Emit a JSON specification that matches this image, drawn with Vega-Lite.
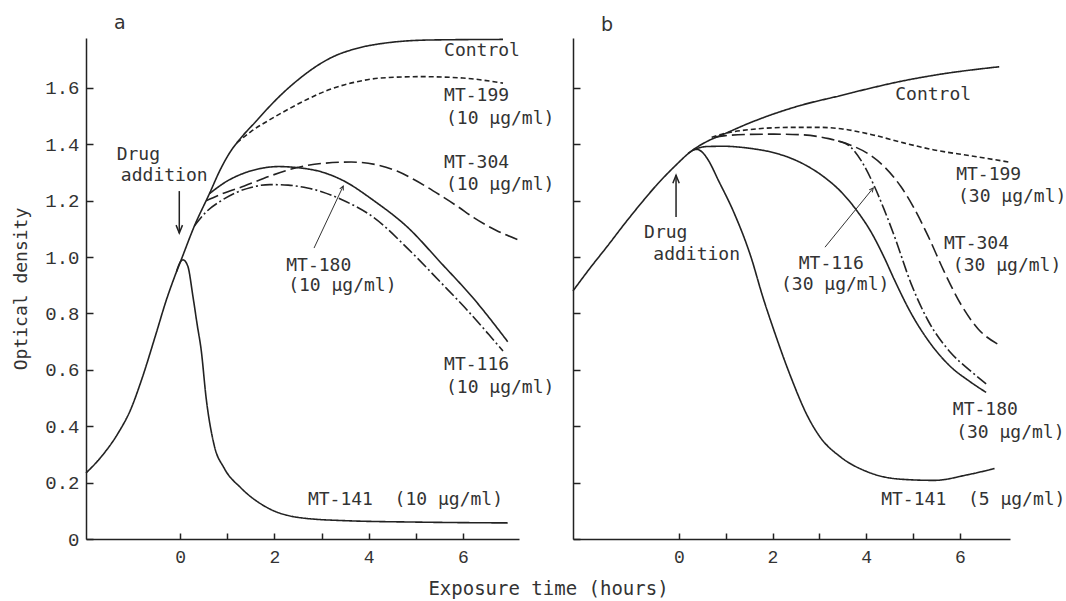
{
  "$schema": "https://vega.github.io/schema/vega-lite/v6.json",
  "background": "white",
  "padding": {"left": 12, "top": 14, "right": 2, "bottom": 2},
  "config": {
    "view": {"stroke": null},
    "font": "DejaVu Sans Mono",
    "axis": {
      "grid": false,
      "domainColor": "#222",
      "domainWidth": 1.5,
      "tickColor": "#222",
      "tickWidth": 1.5,
      "labelFont": "Liberation Mono",
      "labelColor": "#333",
      "titleFont": "DejaVu Sans Mono",
      "titleFontWeight": "normal",
      "titleColor": "#333"
    }
  },
  "datasets": {
    "lines": [
      {"panel": "a", "series": "Control", "t": -2, "od": 0.234},
      {"panel": "a", "series": "Control", "t": -1.66, "od": 0.295},
      {"panel": "a", "series": "Control", "t": -1.32, "od": 0.375},
      {"panel": "a", "series": "Control", "t": -1.05, "od": 0.46},
      {"panel": "a", "series": "Control", "t": -0.83, "od": 0.56},
      {"panel": "a", "series": "Control", "t": -0.51, "od": 0.73},
      {"panel": "a", "series": "Control", "t": -0.3, "od": 0.845},
      {"panel": "a", "series": "Control", "t": -0.12, "od": 0.93},
      {"panel": "a", "series": "Control", "t": 0.02, "od": 0.99},
      {"panel": "a", "series": "Control", "t": 0.3, "od": 1.11},
      {"panel": "a", "series": "Control", "t": 0.62, "od": 1.225},
      {"panel": "a", "series": "Control", "t": 0.85, "od": 1.31},
      {"panel": "a", "series": "Control", "t": 1.05, "od": 1.37},
      {"panel": "a", "series": "Control", "t": 1.3, "od": 1.425},
      {"panel": "a", "series": "Control", "t": 1.6, "od": 1.48},
      {"panel": "a", "series": "Control", "t": 1.9, "od": 1.535},
      {"panel": "a", "series": "Control", "t": 2.2, "od": 1.585},
      {"panel": "a", "series": "Control", "t": 2.57, "od": 1.638},
      {"panel": "a", "series": "Control", "t": 2.9, "od": 1.678},
      {"panel": "a", "series": "Control", "t": 3.2, "od": 1.707},
      {"panel": "a", "series": "Control", "t": 3.7, "od": 1.738},
      {"panel": "a", "series": "Control", "t": 4.26, "od": 1.757},
      {"panel": "a", "series": "Control", "t": 5.32, "od": 1.77},
      {"panel": "a", "series": "Control", "t": 6.85, "od": 1.772},

      {"panel": "a", "series": "MT-141", "t": -0.08, "od": 0.948},
      {"panel": "a", "series": "MT-141", "t": 0.0, "od": 0.982},
      {"panel": "a", "series": "MT-141", "t": 0.06, "od": 0.99},
      {"panel": "a", "series": "MT-141", "t": 0.16, "od": 0.968},
      {"panel": "a", "series": "MT-141", "t": 0.27, "od": 0.86},
      {"panel": "a", "series": "MT-141", "t": 0.36, "od": 0.76},
      {"panel": "a", "series": "MT-141", "t": 0.445, "od": 0.67},
      {"panel": "a", "series": "MT-141", "t": 0.55, "od": 0.5},
      {"panel": "a", "series": "MT-141", "t": 0.72, "od": 0.333},
      {"panel": "a", "series": "MT-141", "t": 0.93, "od": 0.252},
      {"panel": "a", "series": "MT-141", "t": 1.29, "od": 0.181},
      {"panel": "a", "series": "MT-141", "t": 1.86, "od": 0.11},
      {"panel": "a", "series": "MT-141", "t": 2.57, "od": 0.075},
      {"panel": "a", "series": "MT-141", "t": 3.5, "od": 0.065},
      {"panel": "a", "series": "MT-141", "t": 5.0, "od": 0.06},
      {"panel": "a", "series": "MT-141", "t": 6.95, "od": 0.057},

      {"panel": "a", "series": "MT-199", "t": 1.2, "od": 1.405},
      {"panel": "a", "series": "MT-199", "t": 1.5, "od": 1.445},
      {"panel": "a", "series": "MT-199", "t": 1.93, "od": 1.49},
      {"panel": "a", "series": "MT-199", "t": 2.3, "od": 1.525},
      {"panel": "a", "series": "MT-199", "t": 2.7, "od": 1.56},
      {"panel": "a", "series": "MT-199", "t": 3.2, "od": 1.596},
      {"panel": "a", "series": "MT-199", "t": 3.7, "od": 1.62},
      {"panel": "a", "series": "MT-199", "t": 4.26, "od": 1.635},
      {"panel": "a", "series": "MT-199", "t": 5.1, "od": 1.64},
      {"panel": "a", "series": "MT-199", "t": 6.0, "od": 1.635},
      {"panel": "a", "series": "MT-199", "t": 6.85, "od": 1.617},

      {"panel": "a", "series": "MT-304", "t": 0.55, "od": 1.2},
      {"panel": "a", "series": "MT-304", "t": 0.9, "od": 1.225},
      {"panel": "a", "series": "MT-304", "t": 1.36, "od": 1.252},
      {"panel": "a", "series": "MT-304", "t": 1.9, "od": 1.287},
      {"panel": "a", "series": "MT-304", "t": 2.42, "od": 1.315},
      {"panel": "a", "series": "MT-304", "t": 3.0, "od": 1.332},
      {"panel": "a", "series": "MT-304", "t": 3.63, "od": 1.337},
      {"panel": "a", "series": "MT-304", "t": 4.2, "od": 1.326},
      {"panel": "a", "series": "MT-304", "t": 4.6, "od": 1.305},
      {"panel": "a", "series": "MT-304", "t": 4.96, "od": 1.275},
      {"panel": "a", "series": "MT-304", "t": 5.53, "od": 1.218},
      {"panel": "a", "series": "MT-304", "t": 5.9, "od": 1.178},
      {"panel": "a", "series": "MT-304", "t": 6.23, "od": 1.14},
      {"panel": "a", "series": "MT-304", "t": 6.7, "od": 1.095},
      {"panel": "a", "series": "MT-304", "t": 7.23, "od": 1.058},

      {"panel": "a", "series": "MT-180", "t": 0.62, "od": 1.225},
      {"panel": "a", "series": "MT-180", "t": 1.0, "od": 1.27},
      {"panel": "a", "series": "MT-180", "t": 1.36, "od": 1.298},
      {"panel": "a", "series": "MT-180", "t": 1.7, "od": 1.314},
      {"panel": "a", "series": "MT-180", "t": 2.08, "od": 1.321},
      {"panel": "a", "series": "MT-180", "t": 2.5, "od": 1.317},
      {"panel": "a", "series": "MT-180", "t": 3.0, "od": 1.302},
      {"panel": "a", "series": "MT-180", "t": 3.45, "od": 1.272},
      {"panel": "a", "series": "MT-180", "t": 4.11, "od": 1.2},
      {"panel": "a", "series": "MT-180", "t": 4.83, "od": 1.105},
      {"panel": "a", "series": "MT-180", "t": 5.53, "od": 0.98},
      {"panel": "a", "series": "MT-180", "t": 6.23, "od": 0.852},
      {"panel": "a", "series": "MT-180", "t": 6.95, "od": 0.7},

      {"panel": "a", "series": "MT-116", "t": 0.3, "od": 1.11},
      {"panel": "a", "series": "MT-116", "t": 0.55, "od": 1.16},
      {"panel": "a", "series": "MT-116", "t": 0.87, "od": 1.2},
      {"panel": "a", "series": "MT-116", "t": 1.2, "od": 1.23},
      {"panel": "a", "series": "MT-116", "t": 1.5, "od": 1.247},
      {"panel": "a", "series": "MT-116", "t": 1.9, "od": 1.257},
      {"panel": "a", "series": "MT-116", "t": 2.29, "od": 1.255},
      {"panel": "a", "series": "MT-116", "t": 2.7, "od": 1.245},
      {"panel": "a", "series": "MT-116", "t": 3.0, "od": 1.232},
      {"panel": "a", "series": "MT-116", "t": 3.41, "od": 1.205},
      {"panel": "a", "series": "MT-116", "t": 4.11, "od": 1.14},
      {"panel": "a", "series": "MT-116", "t": 4.83, "od": 1.03},
      {"panel": "a", "series": "MT-116", "t": 5.53, "od": 0.91},
      {"panel": "a", "series": "MT-116", "t": 6.1, "od": 0.81},
      {"panel": "a", "series": "MT-116", "t": 6.55, "od": 0.725},
      {"panel": "a", "series": "MT-116", "t": 6.85, "od": 0.667},

      {"panel": "b", "series": "Control", "t": -2.26, "od": 0.88},
      {"panel": "b", "series": "Control", "t": -1.9, "od": 0.96},
      {"panel": "b", "series": "Control", "t": -1.52, "od": 1.04},
      {"panel": "b", "series": "Control", "t": -1.15, "od": 1.12},
      {"panel": "b", "series": "Control", "t": -0.81, "od": 1.19},
      {"panel": "b", "series": "Control", "t": -0.45, "od": 1.26},
      {"panel": "b", "series": "Control", "t": -0.1, "od": 1.32},
      {"panel": "b", "series": "Control", "t": 0.26, "od": 1.375},
      {"panel": "b", "series": "Control", "t": 0.6, "od": 1.41},
      {"panel": "b", "series": "Control", "t": 0.96, "od": 1.436},
      {"panel": "b", "series": "Control", "t": 1.5, "od": 1.475},
      {"panel": "b", "series": "Control", "t": 2.03, "od": 1.508},
      {"panel": "b", "series": "Control", "t": 2.6, "od": 1.538},
      {"panel": "b", "series": "Control", "t": 3.46, "od": 1.573},
      {"panel": "b", "series": "Control", "t": 4.04, "od": 1.597},
      {"panel": "b", "series": "Control", "t": 4.7, "od": 1.622},
      {"panel": "b", "series": "Control", "t": 5.45, "od": 1.645},
      {"panel": "b", "series": "Control", "t": 6.84, "od": 1.675},

      {"panel": "b", "series": "MT-141", "t": 0.2, "od": 1.368},
      {"panel": "b", "series": "MT-141", "t": 0.38, "od": 1.382},
      {"panel": "b", "series": "MT-141", "t": 0.5, "od": 1.372},
      {"panel": "b", "series": "MT-141", "t": 0.62, "od": 1.346},
      {"panel": "b", "series": "MT-141", "t": 0.85, "od": 1.27},
      {"panel": "b", "series": "MT-141", "t": 1.17, "od": 1.16},
      {"panel": "b", "series": "MT-141", "t": 1.54, "od": 1.0},
      {"panel": "b", "series": "MT-141", "t": 1.79, "od": 0.86},
      {"panel": "b", "series": "MT-141", "t": 2.03, "od": 0.74},
      {"panel": "b", "series": "MT-141", "t": 2.39, "od": 0.575},
      {"panel": "b", "series": "MT-141", "t": 2.75, "od": 0.435},
      {"panel": "b", "series": "MT-141", "t": 3.0, "od": 0.365},
      {"panel": "b", "series": "MT-141", "t": 3.46, "od": 0.29},
      {"panel": "b", "series": "MT-141", "t": 4.0, "od": 0.24},
      {"panel": "b", "series": "MT-141", "t": 4.74, "od": 0.212},
      {"panel": "b", "series": "MT-141", "t": 5.45, "od": 0.208},
      {"panel": "b", "series": "MT-141", "t": 6.17, "od": 0.228},
      {"panel": "b", "series": "MT-141", "t": 6.74, "od": 0.25},

      {"panel": "b", "series": "MT-180", "t": 0.3, "od": 1.38},
      {"panel": "b", "series": "MT-180", "t": 0.6, "od": 1.392},
      {"panel": "b", "series": "MT-180", "t": 0.96, "od": 1.393},
      {"panel": "b", "series": "MT-180", "t": 1.5, "od": 1.386},
      {"panel": "b", "series": "MT-180", "t": 2.03, "od": 1.37},
      {"panel": "b", "series": "MT-180", "t": 2.4, "od": 1.35},
      {"panel": "b", "series": "MT-180", "t": 2.75, "od": 1.322},
      {"panel": "b", "series": "MT-180", "t": 3.1, "od": 1.284},
      {"panel": "b", "series": "MT-180", "t": 3.46, "od": 1.232},
      {"panel": "b", "series": "MT-180", "t": 3.82, "od": 1.16},
      {"panel": "b", "series": "MT-180", "t": 4.1, "od": 1.09},
      {"panel": "b", "series": "MT-180", "t": 4.38, "od": 1.0},
      {"panel": "b", "series": "MT-180", "t": 4.6, "od": 0.92},
      {"panel": "b", "series": "MT-180", "t": 4.96, "od": 0.8},
      {"panel": "b", "series": "MT-180", "t": 5.32, "od": 0.705},
      {"panel": "b", "series": "MT-180", "t": 5.81, "od": 0.61},
      {"panel": "b", "series": "MT-180", "t": 6.2, "od": 0.56},
      {"panel": "b", "series": "MT-180", "t": 6.56, "od": 0.52},

      {"panel": "b", "series": "MT-199", "t": 0.7, "od": 1.425},
      {"panel": "b", "series": "MT-199", "t": 0.9, "od": 1.435},
      {"panel": "b", "series": "MT-199", "t": 1.5, "od": 1.452},
      {"panel": "b", "series": "MT-199", "t": 2.39, "od": 1.46},
      {"panel": "b", "series": "MT-199", "t": 3.0, "od": 1.46},
      {"panel": "b", "series": "MT-199", "t": 3.46, "od": 1.455},
      {"panel": "b", "series": "MT-199", "t": 4.1, "od": 1.435},
      {"panel": "b", "series": "MT-199", "t": 4.8, "od": 1.405},
      {"panel": "b", "series": "MT-199", "t": 5.45, "od": 1.38},
      {"panel": "b", "series": "MT-199", "t": 6.2, "od": 1.36},
      {"panel": "b", "series": "MT-199", "t": 7.05, "od": 1.337},

      {"panel": "b", "series": "MT-304", "t": 0.75, "od": 1.425},
      {"panel": "b", "series": "MT-304", "t": 0.96, "od": 1.43},
      {"panel": "b", "series": "MT-304", "t": 1.5, "od": 1.435},
      {"panel": "b", "series": "MT-304", "t": 2.03, "od": 1.436},
      {"panel": "b", "series": "MT-304", "t": 2.6, "od": 1.434},
      {"panel": "b", "series": "MT-304", "t": 3.2, "od": 1.42},
      {"panel": "b", "series": "MT-304", "t": 3.67, "od": 1.397},
      {"panel": "b", "series": "MT-304", "t": 4.1, "od": 1.36},
      {"panel": "b", "series": "MT-304", "t": 4.4, "od": 1.318},
      {"panel": "b", "series": "MT-304", "t": 4.74, "od": 1.25},
      {"panel": "b", "series": "MT-304", "t": 5.0, "od": 1.18},
      {"panel": "b", "series": "MT-304", "t": 5.32, "od": 1.075},
      {"panel": "b", "series": "MT-304", "t": 5.66, "od": 0.95},
      {"panel": "b", "series": "MT-304", "t": 6.03, "od": 0.83},
      {"panel": "b", "series": "MT-304", "t": 6.39, "od": 0.745},
      {"panel": "b", "series": "MT-304", "t": 6.82, "od": 0.69},

      {"panel": "b", "series": "MT-116", "t": 3.4, "od": 1.412},
      {"panel": "b", "series": "MT-116", "t": 3.67, "od": 1.39},
      {"panel": "b", "series": "MT-116", "t": 3.9, "od": 1.34},
      {"panel": "b", "series": "MT-116", "t": 4.15, "od": 1.26},
      {"panel": "b", "series": "MT-116", "t": 4.38, "od": 1.17},
      {"panel": "b", "series": "MT-116", "t": 4.6, "od": 1.075},
      {"panel": "b", "series": "MT-116", "t": 4.96, "od": 0.905},
      {"panel": "b", "series": "MT-116", "t": 5.32, "od": 0.775},
      {"panel": "b", "series": "MT-116", "t": 5.81, "od": 0.66},
      {"panel": "b", "series": "MT-116", "t": 6.2, "od": 0.6},
      {"panel": "b", "series": "MT-116", "t": 6.56, "od": 0.55}
    ],
    "texts": [
      {"panel": "a", "kind": "label", "t": 5.6, "od": 1.73, "label": "Control"},
      {"panel": "a", "kind": "label", "t": 5.6, "od": 1.57, "label": "MT-199"},
      {"panel": "a", "kind": "label", "t": 5.64, "od": 1.49, "label": "(10 µg/ml)"},
      {"panel": "a", "kind": "label", "t": 5.6, "od": 1.333, "label": "MT-304"},
      {"panel": "a", "kind": "label", "t": 5.64, "od": 1.255, "label": "(10 µg/ml)"},
      {"panel": "a", "kind": "label", "t": 2.25, "od": 0.97, "label": "MT-180"},
      {"panel": "a", "kind": "label", "t": 2.29, "od": 0.897, "label": "(10 µg/ml)"},
      {"panel": "a", "kind": "label", "t": 5.6, "od": 0.617, "label": "MT-116"},
      {"panel": "a", "kind": "label", "t": 5.64, "od": 0.535, "label": "(10 µg/ml)"},
      {"panel": "a", "kind": "label", "t": 2.71, "od": 0.138, "label": "MT-141 \u00a0(10 µg/ml)"},
      {"panel": "a", "kind": "drug", "t": -0.89, "od": 1.362, "label": "Drug"},
      {"panel": "a", "kind": "drug", "t": -0.34, "od": 1.287, "label": "addition"},
      {"panel": "b", "kind": "label", "t": 4.62, "od": 1.574, "label": "Control"},
      {"panel": "b", "kind": "label", "t": 5.92, "od": 1.29, "label": "MT-199"},
      {"panel": "b", "kind": "label", "t": 5.96, "od": 1.213, "label": "(30 µg/ml)"},
      {"panel": "b", "kind": "label", "t": 5.66, "od": 1.046, "label": "MT-304"},
      {"panel": "b", "kind": "label", "t": 5.85, "od": 0.97, "label": "(30 µg/ml)"},
      {"panel": "b", "kind": "label", "t": 2.56, "od": 0.975, "label": "MT-116"},
      {"panel": "b", "kind": "label", "t": 2.18, "od": 0.9, "label": "(30 µg/ml)"},
      {"panel": "b", "kind": "label", "t": 5.85, "od": 0.457, "label": "MT-180"},
      {"panel": "b", "kind": "label", "t": 5.92, "od": 0.376, "label": "(30 µg/ml)"},
      {"panel": "b", "kind": "label", "t": 4.32, "od": 0.138, "label": "MT-141 \u00a0(5 µg/ml)"},
      {"panel": "b", "kind": "drug", "t": -0.28, "od": 1.085, "label": "Drug"},
      {"panel": "b", "kind": "drug", "t": 0.38, "od": 1.007, "label": "addition"}
    ],
    "arrows": [
      {"panel": "a", "kind": "drug", "t": -0.02, "od": 1.234, "t2": -0.02, "od2": 1.085},
      {"panel": "a", "kind": "leader", "t": 2.84, "od": 1.032, "t2": 3.46, "od2": 1.252},
      {"panel": "b", "kind": "drug", "t": -0.06, "od": 1.142, "t2": -0.06, "od2": 1.29},
      {"panel": "b", "kind": "leader", "t": 3.12, "od": 1.035, "t2": 4.15, "od2": 1.245}
    ]
  },
  "spacing": 54,
  "bounds": "flush",
  "hconcat": [
    {
      "width": 433,
      "height": 501,
      "title": {"text": "a", "anchor": "start", "frame": "group", "dx": 28, "offset": -12, "baseline": "alphabetic", "font": "DejaVu Sans", "fontSize": 19, "fontWeight": "normal", "color": "#333"},
      "encoding": {
        "x": {"field": "t", "type": "quantitative", "scale": {"domain": [-2, 7.19], "nice": false, "zero": false},
          "axis": {"values": [0, 1, 2, 3, 4, 5, 6], "labelExpr": "datum.value % 2 == 0 ? datum.label : ''", "title": "Exposure time (hours)", "titleX": 462, "titleY": 49, "titleBaseline": "middle", "titleAlign": "center", "titleFontSize": 19, "tickSize": -6, "labelPadding": 15, "labelFontSize": 18, "labelFlush": false}},
        "y": {"field": "od", "type": "quantitative", "scale": {"domain": [0, 1.777], "nice": false, "zero": false},
          "axis": {"values": [0, 0.2, 0.4, 0.6, 0.8, 1.0, 1.2, 1.4, 1.6], "labelExpr": "datum.value == 0 ? '0' : format(datum.value, '.1f')", "tickSize": -7, "labelPadding": 14, "labelFontSize": 19, "title": "Optical density", "titleFontSize": 18, "titlePadding": 14}}
      },
      "layer": [
        {
          "data": {"name": "lines"},
          "transform": [{"filter": "datum.panel == 'a'"}],
          "mark": {"type": "line", "interpolate": "monotone", "color": "#222", "strokeWidth": 1.6, "clip": false},
          "encoding": {
            "strokeDash": {"field": "series", "type": "nominal", "legend": null,
              "scale": {"domain": ["Control", "MT-199", "MT-304", "MT-180", "MT-116", "MT-141"], "range": [[1, 0], [5, 3], [13, 5], [1, 0], [12, 3, 2, 3], [1, 0]]}},
            "detail": {"field": "series"}
          }
        },
        {
          "data": {"name": "arrows"},
          "transform": [{"filter": "datum.panel == 'a' && datum.kind == 'drug'"}],
          "mark": {"type": "rule", "color": "#222", "strokeWidth": 1.5},
          "encoding": {"x2": {"field": "t2"}, "y2": {"field": "od2"}}
        },
        {
          "data": {"name": "arrows"},
          "transform": [{"filter": "datum.panel == 'a' && datum.kind == 'drug'"}],
          "mark": {"type": "point", "shape": "M -0.4 -1 L 0 0 L 0.4 -1", "filled": false, "stroke": "#222", "strokeWidth": 1.5, "size": 256, "angle": 0, "opacity": 1},
          "encoding": {"x": {"field": "t2", "type": "quantitative"}, "y": {"field": "od2", "type": "quantitative"}}
        },
        {
          "data": {"name": "arrows"},
          "transform": [{"filter": "datum.panel == 'a' && datum.kind == 'leader'"}],
          "mark": {"type": "rule", "color": "#333", "strokeWidth": 1},
          "encoding": {"x2": {"field": "t2"}, "y2": {"field": "od2"}}
        },
        {
          "data": {"name": "arrows"},
          "transform": [{"filter": "datum.panel == 'a' && datum.kind == 'leader'"}],
          "mark": {"type": "point", "shape": "M -0.5 -1 L 0 0 L 0.5 -1", "filled": false, "stroke": "#333", "strokeWidth": 1, "size": 64, "angle": 205, "opacity": 1},
          "encoding": {"x": {"field": "t2", "type": "quantitative"}, "y": {"field": "od2", "type": "quantitative"}}
        },
        {
          "data": {"name": "texts"},
          "transform": [{"filter": "datum.panel == 'a' && datum.kind == 'label'"}],
          "mark": {"type": "text", "align": "left", "baseline": "middle", "font": "DejaVu Sans Mono", "fontSize": 18, "color": "#333"},
          "encoding": {"text": {"field": "label"}}
        },
        {
          "data": {"name": "texts"},
          "transform": [{"filter": "datum.panel == 'a' && datum.kind == 'drug'"}],
          "mark": {"type": "text", "align": "center", "baseline": "middle", "font": "DejaVu Sans Mono", "fontSize": 18, "color": "#333"},
          "encoding": {"text": {"field": "label"}}
        }
      ]
    },
    {
      "width": 437,
      "height": 501,
      "title": {"text": "b", "anchor": "start", "frame": "group", "dx": 28, "offset": -12, "baseline": "alphabetic", "font": "DejaVu Sans", "fontSize": 19, "fontWeight": "normal", "color": "#333"},
      "encoding": {
        "x": {"field": "t", "type": "quantitative", "scale": {"domain": [-2.26, 7.07], "nice": false, "zero": false},
          "axis": {"values": [0, 1, 2, 3, 4, 5, 6], "labelExpr": "datum.value % 2 == 0 ? datum.label : ''", "title": null, "tickSize": -6, "labelPadding": 15, "labelFontSize": 18, "labelFlush": false}},
        "y": {"field": "od", "type": "quantitative", "scale": {"domain": [0, 1.777], "nice": false, "zero": false},
          "axis": {"values": [0, 0.2, 0.4, 0.6, 0.8, 1.0, 1.2, 1.4, 1.6], "labels": false, "tickSize": -7, "title": null}}
      },
      "layer": [
        {
          "data": {"name": "lines"},
          "transform": [{"filter": "datum.panel == 'b'"}],
          "mark": {"type": "line", "interpolate": "monotone", "color": "#222", "strokeWidth": 1.6, "clip": false},
          "encoding": {
            "strokeDash": {"field": "series", "type": "nominal", "legend": null,
              "scale": {"domain": ["Control", "MT-199", "MT-304", "MT-180", "MT-116", "MT-141"], "range": [[1, 0], [5, 3], [13, 5], [1, 0], [12, 3, 2, 3], [1, 0]]}},
            "detail": {"field": "series"}
          }
        },
        {
          "data": {"name": "arrows"},
          "transform": [{"filter": "datum.panel == 'b' && datum.kind == 'drug'"}],
          "mark": {"type": "rule", "color": "#222", "strokeWidth": 1.5},
          "encoding": {"x2": {"field": "t2"}, "y2": {"field": "od2"}}
        },
        {
          "data": {"name": "arrows"},
          "transform": [{"filter": "datum.panel == 'b' && datum.kind == 'drug'"}],
          "mark": {"type": "point", "shape": "M -0.4 -1 L 0 0 L 0.4 -1", "filled": false, "stroke": "#222", "strokeWidth": 1.5, "size": 256, "angle": 180, "opacity": 1},
          "encoding": {"x": {"field": "t2", "type": "quantitative"}, "y": {"field": "od2", "type": "quantitative"}}
        },
        {
          "data": {"name": "arrows"},
          "transform": [{"filter": "datum.panel == 'b' && datum.kind == 'leader'"}],
          "mark": {"type": "rule", "color": "#333", "strokeWidth": 1},
          "encoding": {"x2": {"field": "t2"}, "y2": {"field": "od2"}}
        },
        {
          "data": {"name": "arrows"},
          "transform": [{"filter": "datum.panel == 'b' && datum.kind == 'leader'"}],
          "mark": {"type": "point", "shape": "M -0.5 -1 L 0 0 L 0.5 -1", "filled": false, "stroke": "#333", "strokeWidth": 1, "size": 64, "angle": 219, "opacity": 1},
          "encoding": {"x": {"field": "t2", "type": "quantitative"}, "y": {"field": "od2", "type": "quantitative"}}
        },
        {
          "data": {"name": "texts"},
          "transform": [{"filter": "datum.panel == 'b' && datum.kind == 'label'"}],
          "mark": {"type": "text", "align": "left", "baseline": "middle", "font": "DejaVu Sans Mono", "fontSize": 18, "color": "#333"},
          "encoding": {"text": {"field": "label"}}
        },
        {
          "data": {"name": "texts"},
          "transform": [{"filter": "datum.panel == 'b' && datum.kind == 'drug'"}],
          "mark": {"type": "text", "align": "center", "baseline": "middle", "font": "DejaVu Sans Mono", "fontSize": 18, "color": "#333"},
          "encoding": {"text": {"field": "label"}}
        }
      ]
    }
  ]
}
